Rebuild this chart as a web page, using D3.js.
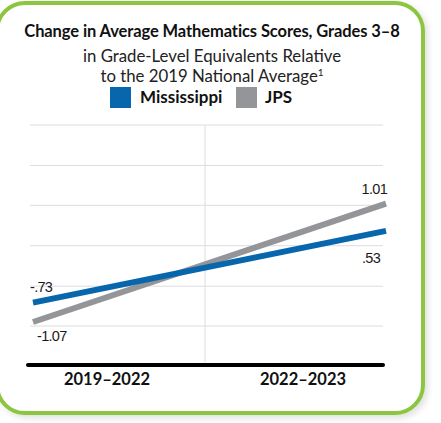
<!DOCTYPE html>
<html>
<head>
<meta charset="utf-8">
<script src="https://cdn.jsdelivr.net/npm/d3@7"></script>
<style>
  html, body { margin: 0; padding: 0; background: #fff; }
  svg { display: block; }
</style>
</head>
<body>
<svg id="svg" width="441" height="423"></svg>
<script>
// chart data
var periods = ["2019\u20132022", "2022\u20132023"];
var seriesNames = ["Mississippi", "JPS"];
var mississippi = [-0.73, 0.53];
var jps = [-1.07, 1.01];
var valueLabels = [["-.73", ".53"], ["-1.07", "1.01"]];
var gridValues = [-1.14, -0.44, 0.27, 0.98, 1.68, 2.39];

var colors = ["#0866ad", "#939598"];

var svg = d3.select("#svg");

// soft shadow for the frame
var defs = svg.append("defs");
var f = defs.append("filter").attr("id", "shadow")
  .attr("x", "-10%").attr("y", "-10%").attr("width", "130%").attr("height", "130%");
f.append("feDropShadow")
  .attr("dx", 3).attr("dy", 3).attr("stdDeviation", 3)
  .attr("flood-color", "#000").attr("flood-opacity", 0.12);

svg.append("rect")
  .attr("x", -3).attr("y", 3)
  .attr("width", 426).attr("height", 410)
  .attr("rx", 28).attr("ry", 28)
  .attr("fill", "#fff")
  .attr("stroke", "#8cc63f")
  .attr("stroke-width", 4)
  .attr("filter", "url(#shadow)");

// titles
svg.append("text")
  .attr("x", 212).attr("y", 37)
  .attr("text-anchor", "middle")
  .style("font-family", "Lato, 'Open Sans', sans-serif")
  .style("font-weight", "bold")
  .style("font-size", "16.5px")
  .style("letter-spacing", "-0.1px")
  .attr("fill", "#111")
  .text("Change in Average Mathematics Scores, Grades 3\u20138");

var subs = ["in Grade-Level Equivalents Relative", "to the 2019 National Average"];
var subText = svg.selectAll(".sub")
  .data(subs)
  .enter()
  .append("text")
  .attr("class", "sub")
  .attr("x", 212)
  .attr("y", (d, i) => 62 + i * 20)
  .attr("text-anchor", "middle")
  .style("font-family", "Lato, 'Open Sans', sans-serif")
  .style("font-size", "16.8px")
  .attr("fill", "#222")
  .text((d) => d);
subText.filter((d, i) => i === 1)
  .append("tspan")
  .attr("dy", -6)
  .style("font-size", "10px")
  .text("1");

// legend
var legendX = [110, 236];
var leg = svg.selectAll(".leg")
  .data(seriesNames)
  .enter()
  .append("g")
  .attr("class", "leg")
  .attr("transform", (d, i) => "translate(" + legendX[i] + ",87)");
leg.append("rect")
  .attr("width", 21).attr("height", 21)
  .attr("fill", (d, i) => colors[i]);
leg.append("text")
  .attr("x", (d, i) => i === 0 ? 30 : 29)
  .attr("y", 16)
  .style("font-family", "Lato, 'Open Sans', sans-serif")
  .style("font-weight", "bold")
  .style("font-size", "17px")
  .attr("fill", "#111")
  .text((d) => d);

// scales
var yScale = d3.scaleLinear()
  .domain([-1.14, 2.39])
  .range([326, 125]);

var xPoint = d3.scalePoint()
  .domain(periods)
  .range([33, 386]);

var xBand = d3.scaleBand()
  .domain(periods)
  .range([9, 401]);

// grid
var grid = svg.append("g");
grid.selectAll("line")
  .data(gridValues)
  .enter()
  .append("line")
  .attr("x1", 30).attr("x2", 383)
  .attr("y1", (d) => yScale(d))
  .attr("y2", (d) => yScale(d))
  .attr("stroke", "#dcdcdc")
  .attr("stroke-width", 1);

grid.append("line")
  .attr("x1", xBand(periods[1])).attr("x2", xBand(periods[1]))
  .attr("y1", yScale(gridValues[5])).attr("y2", 362)
  .attr("stroke", "#dcdcdc")
  .attr("stroke-width", 1);

// x axis
var xAxis = svg.append("g")
  .attr("transform", "translate(0,365)");
xAxis.append("line")
  .attr("x1", 28).attr("x2", 383)
  .attr("stroke", "#000")
  .attr("stroke-width", 4)
  .attr("stroke-linecap", "round");
xAxis.selectAll("text")
  .data(periods)
  .enter()
  .append("text")
  .attr("x", (d) => xBand(d) + xBand.bandwidth() / 2)
  .attr("y", 20)
  .attr("text-anchor", "middle")
  .style("font-family", "Lato, 'Open Sans', sans-serif")
  .style("font-weight", "bold")
  .style("font-size", "16.5px")
  .attr("fill", "#111")
  .text((d) => d);

// lines
var series = [mississippi, jps];
var line = d3.line()
  .x((d, i) => xPoint(periods[i]))
  .y((d) => yScale(d));

svg.selectAll(".series")
  .data([series[1], series[0]])
  .enter()
  .append("path")
  .attr("class", "series")
  .attr("d", (d) => line(d))
  .attr("fill", "none")
  .attr("stroke", (d, i) => colors[1 - i])
  .attr("stroke-width", 6);

// value labels
var labelFont = "'Liberation Sans', Arial, sans-serif";
var lbl = [
  { s: 0, p: 0, dx: -3, dy: -11, anchor: "start" },
  { s: 0, p: 1, dx: -24, dy: 32, anchor: "start" },
  { s: 1, p: 0, dx: 4, dy: 19, anchor: "start" },
  { s: 1, p: 1, dx: 1, dy: -10, anchor: "end" }
];
svg.selectAll(".val")
  .data(lbl)
  .enter()
  .append("text")
  .attr("class", "val")
  .attr("x", (d) => xPoint(periods[d.p]) + d.dx)
  .attr("y", (d) => yScale(series[d.s][d.p]) + d.dy)
  .attr("text-anchor", (d) => d.anchor)
  .style("font-family", labelFont)
  .style("font-size", "14.5px")
  .style("letter-spacing", "-0.7px")
  .attr("fill", "#1a1a1a")
  .text((d) => valueLabels[d.s][d.p]);
</script>
</body>
</html>
